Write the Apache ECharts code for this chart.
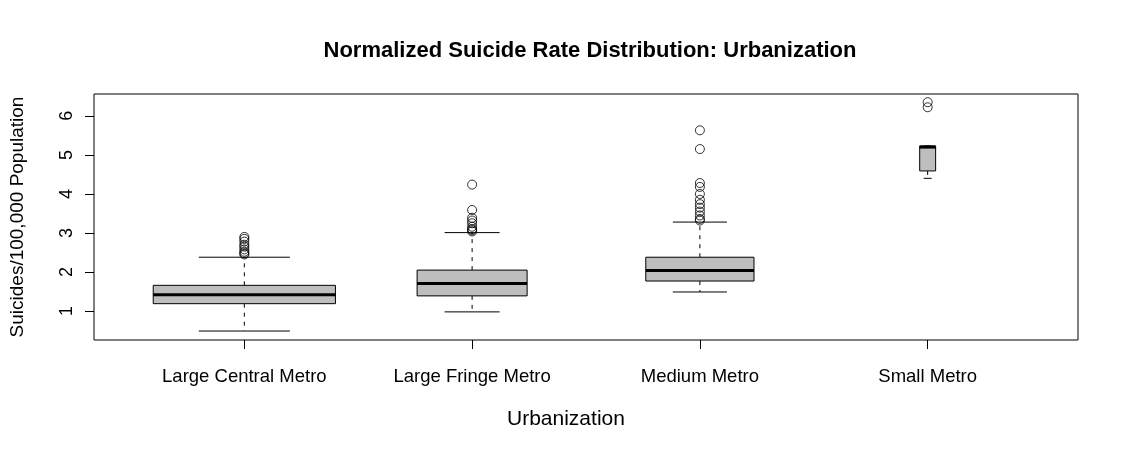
<!DOCTYPE html>
<html>
<head>
    <meta charset="utf-8">
    <script src="https://cdn.jsdelivr.net/npm/echarts@6/dist/echarts.min.js"></script>
</head>
<body style="margin:0;background:#fff;">
<div id="main" style="width:1125px;height:456px;"></div>

<script type="text/javascript">
    // categories and five-number summaries
    var categories = ['Large Central Metro', 'Large Fringe Metro', 'Medium Metro', 'Small Metro'];
    var lowWhisker = [0.49, 0.98, 1.49, 4.40];
    var q1 = [1.19, 1.39, 1.77, 4.59];
    var median = [1.42, 1.71, 2.04, 5.20];
    var q3 = [1.66, 2.05, 2.38, 5.23];
    var highWhisker = [2.38, 3.01, 3.28, 5.23];
    // varwidth boxes (relative width, in category units)
    var boxWidth = [0.80, 0.483, 0.475, 0.07];

    var outliers = [
        [2.45, 2.48, 2.52, 2.58, 2.65, 2.70, 2.78, 2.85, 2.90],
        [3.04, 3.07, 3.10, 3.16, 3.25, 3.32, 3.39, 3.59, 4.24],
        [3.32, 3.36, 3.45, 3.55, 3.65, 3.74, 3.85, 4.00, 4.18, 4.28, 5.15, 5.63],
        [6.22, 6.35]
    ];
    var yTicks = [1, 2, 3, 4, 5, 6];

    var font = 'Liberation Sans, Arial, Helvetica, sans-serif';
    var myChart = echarts.init(document.getElementById('main'));

    var boxData = [];
    var pointData = [];
    for (var i = 0; i < categories.length; i++) {
        boxData.push([i + 1, lowWhisker[i], q1[i], median[i], q3[i], highWhisker[i], boxWidth[i]]);
        for (var j = 0; j < outliers[i].length; j++) {
            pointData.push([i + 1, outliers[i][j]]);
        }
    }

    function renderBox(params, api) {
        var x = api.value(0);
        var w = api.size([api.value(6), 0])[0];
        var lo = api.coord([x, api.value(1)]);
        var b1 = api.coord([x, api.value(2)]);
        var md = api.coord([x, api.value(3)]);
        var b3 = api.coord([x, api.value(4)]);
        var hi = api.coord([x, api.value(5)]);
        var cx = lo[0];
        var dash = {stroke: '#000', lineWidth: 1, lineDash: [4, 5]};
        var solid = {stroke: '#000', lineWidth: 1};
        return {
            type: 'group',
            children: [
                {type: 'line', shape: {x1: cx, y1: b3[1], x2: cx, y2: hi[1]}, style: dash},
                {type: 'line', shape: {x1: cx, y1: b1[1], x2: cx, y2: lo[1]}, style: dash},
                {type: 'line', shape: {x1: cx - w / 4, y1: hi[1], x2: cx + w / 4, y2: hi[1]}, style: solid},
                {type: 'line', shape: {x1: cx - w / 4, y1: lo[1], x2: cx + w / 4, y2: lo[1]}, style: solid},
                {type: 'rect', shape: {x: cx - w / 2, y: b3[1], width: w, height: b1[1] - b3[1]},
                    style: {fill: '#bebebe', stroke: '#000', lineWidth: 1}},
                {type: 'line', shape: {x1: cx - w / 2, y1: md[1], x2: cx + w / 2, y2: md[1]},
                    style: {stroke: '#000', lineWidth: 3}}
            ]
        };
    }

    var option = {
        animation: false,
        backgroundColor: '#fff',
        textStyle: {fontFamily: font},
        title: {
            text: 'Normalized Suicide Rate Distribution: Urbanization',
            left: 585, top: 35, textAlign: 'center',
            textStyle: {fontFamily: font, fontSize: 22, fontWeight: 'bold', color: '#000'}
        },
        graphic: [{
            type: 'text', left: 507, top: 409,
            style: {text: 'Urbanization', font: '21px ' + font, fill: '#000'}
        }],
        grid: {
            left: 93, right: 47, top: 94, bottom: 116,
            show: true, borderColor: '#000', borderWidth: 1, backgroundColor: 'transparent'
        },
        xAxis: {
            type: 'value', min: 0.34, max: 4.66,
            splitLine: {show: false},
            axisLine: {show: false},
            axisTick: {show: true, length: 9, lineStyle: {color: '#000'}, customValues: [1, 2, 3, 4]},
            axisLabel: {
                customValues: [1, 2, 3, 4], margin: 27,
                fontFamily: font, fontSize: 18.5, color: '#000',
                formatter: function (v) { return categories[Math.round(v) - 1]; }
            }
        },
        yAxis: {
            type: 'value', min: 0.26, max: 6.56,
            name: 'Suicides/100,000 Population', nameLocation: 'middle', nameGap: 67, nameRotate: 90,
            nameTextStyle: {fontFamily: font, fontSize: 19, color: '#000'},
            splitLine: {show: false},
            axisLine: {show: false},
            axisTick: {show: true, length: 9, lineStyle: {color: '#000'}, customValues: yTicks},
            axisLabel: {
                customValues: yTicks, rotate: 90, margin: 18,
                fontFamily: font, fontSize: 18, color: '#000'
            }
        },
        series: [
            {type: 'custom', renderItem: renderBox, data: boxData, encode: {x: 0, y: [1, 2, 3, 4, 5]}, z: 2},
            {
                type: 'scatter', data: pointData, symbol: 'circle', symbolSize: 9, z: 3,
                itemStyle: {color: 'transparent', borderColor: '#000', borderWidth: 1}
            }
        ]
    };

    myChart.setOption(option);
</script>
</body>
</html>
